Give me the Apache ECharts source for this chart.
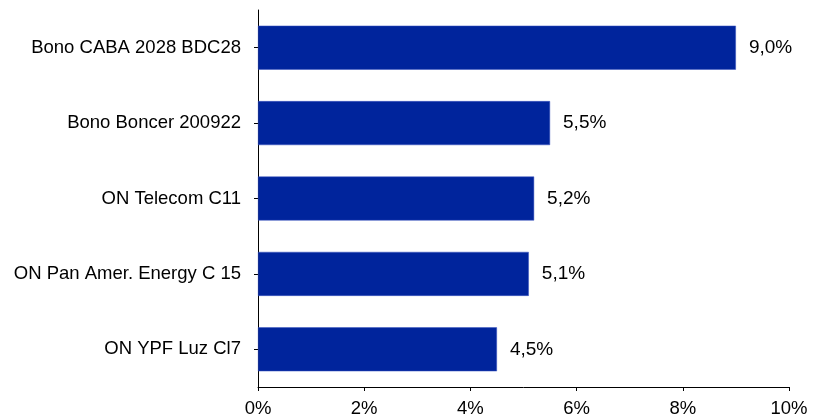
<!DOCTYPE html>
<html>
<head>
<meta charset="utf-8">
<script src="https://cdn.jsdelivr.net/npm/echarts@6/dist/echarts.min.js"></script>
<style>html,body{margin:0;padding:0;background:#fff}#c{width:822px;height:418px}</style>
</head>
<body>
<div id="c"></div>
<script>
const categories = ["Bono CABA 2028 BDC28", "Bono Boncer 200922", "ON Telecom C11", "ON Pan Amer. Energy C 15", "ON YPF Luz Cl7"];
const values = [9.0, 5.5, 5.2, 5.1, 4.5];
const xTicks = [0, 2, 4, 6, 8, 10];

const chart = echarts.init(document.getElementById('c'));
const font = 'Liberation Sans, Arial, sans-serif';
chart.setOption({
  animation: false,
  grid: { left: 258, right: 33, top: 10, bottom: 29, containLabel: false },
  xAxis: {
    type: 'value', min: xTicks[0], max: xTicks[xTicks.length - 1], interval: 2,
    axisLine: { show: true, lineStyle: { color: '#000', width: 1 } },
    axisTick: { show: true, length: 4, lineStyle: { color: '#000' } },
    splitLine: { show: false },
    axisLabel: { color: '#000', fontSize: 18.5, fontFamily: font, margin: 12,
      formatter: v => v + '%' }
  },
  yAxis: {
    type: 'category', data: categories.slice().reverse(),
    axisLine: { show: true, lineStyle: { color: '#000', width: 1 } },
    axisTick: { show: true, alignWithLabel: true, length: 4, lineStyle: { color: '#000' } },
    axisLabel: { color: '#000', fontSize: 18.5, fontFamily: font, margin: 17 }
  },
  series: [{
    type: 'bar',
    data: values.slice().reverse(),
    barWidth: 44,
    itemStyle: { color: '#00249c', borderColor: '#3a55c0', borderWidth: 0.5 },
    label: { show: true, position: 'right', distance: 13, color: '#000', fontSize: 19, fontFamily: font,
      formatter: p => p.value.toFixed(1).replace('.', ',') + '%' }
  }]
});
</script>
</body>
</html>
